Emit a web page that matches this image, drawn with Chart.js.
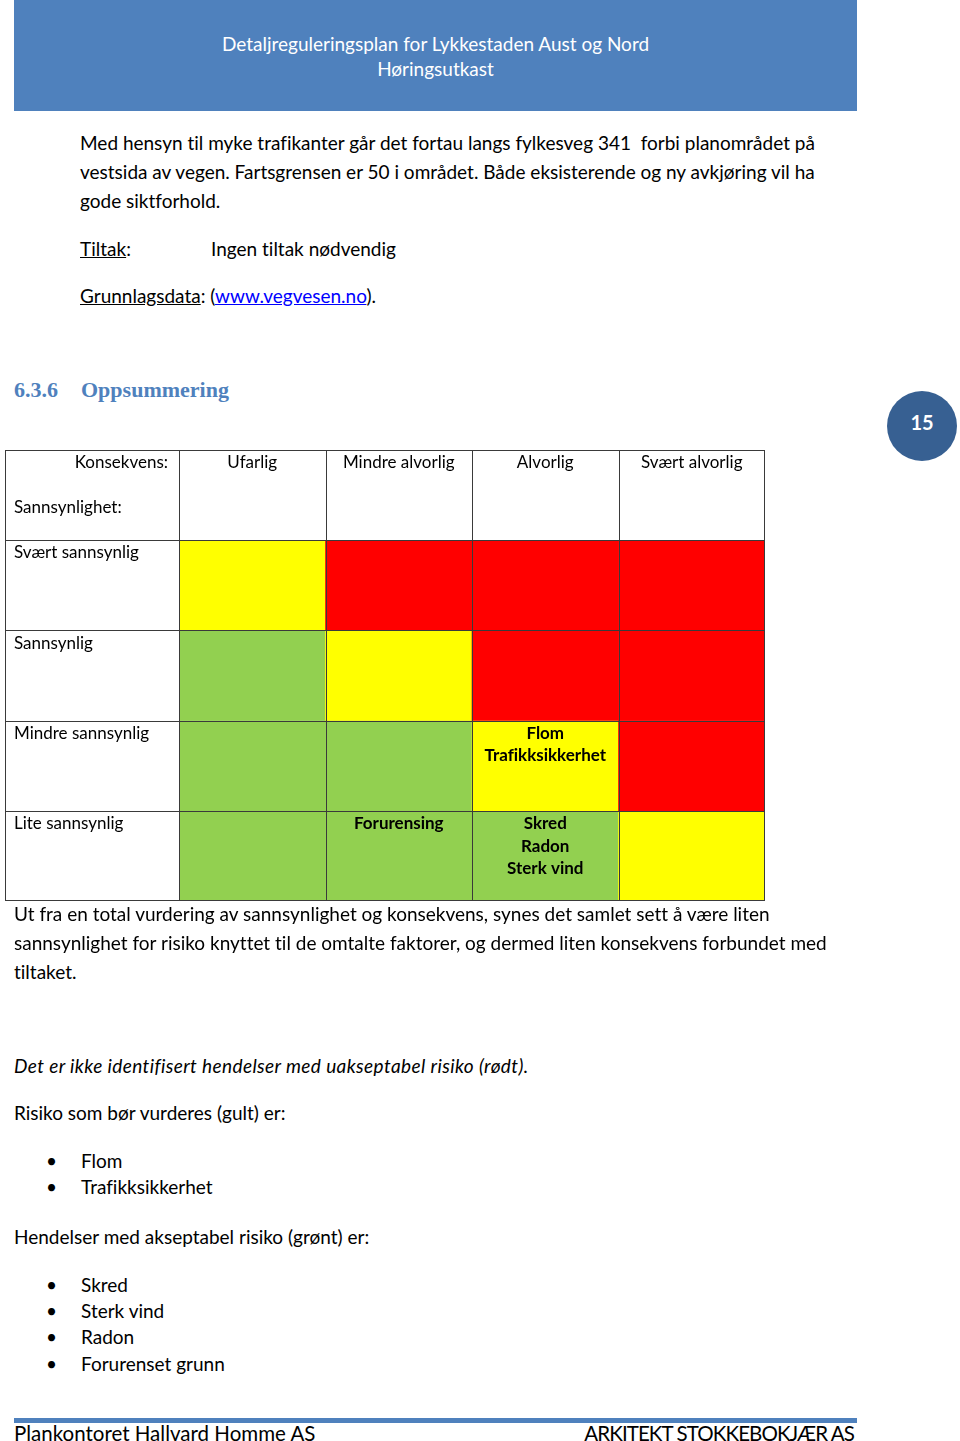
<!DOCTYPE html>
<html lang="no">
<head>
<meta charset="UTF-8">
<title>Oppsummering - risikomatrise</title>
<script src="https://cdn.jsdelivr.net/npm/chart.js"></script>
<style>
    * { box-sizing: border-box; margin: 0; padding: 0; }
    body {
        width: 960px;
        height: 1441px;
        position: relative;
        overflow: hidden;
        background: #fff;
        font-family: Lato, "Open Sans", sans-serif;
        font-size: 19px;
        font-variant-ligatures: none;
        color: #000;
    }
    .t {
        position: absolute;
        white-space: nowrap;
        line-height: 28px;
    }
    .u { text-decoration: underline; }
    a { color: #0000ff; text-decoration: underline; }
    .header {
        position: absolute;
        left: 14px; top: 0;
        width: 843px; height: 111px;
        background: #4f81bd;
        color: #fff;
        text-align: center;
        font-size: 19px;
        line-height: 25px;
        padding-top: 31px;
    }
    .heading {
        position: absolute;
        top: 376px;
        font-family: "Liberation Serif", serif;
        font-weight: bold;
        font-size: 22px;
        color: #4f81bd;
        line-height: 28px;
    }
    .pagenr {
        position: absolute;
        left: 887px; top: 391px;
        width: 70px; height: 70px;
        border-radius: 50%;
        background: #376092;
        color: #fff;
        font-weight: bold;
        font-size: 20px;
        line-height: 62px;
        text-align: center;
    }
    #matrix {
        position: absolute;
        left: 5px; top: 450px;
        width: 760px; height: 451px;
    }
    .bullet { position: absolute; left: 46px; }
    .footline {
        position: absolute;
        left: 14px; top: 1418px;
        width: 843px; height: 5px;
        background: #4f81bd;
    }
    .foot { font-size: 20.5px; }
</style>
</head>
<body>

<div class="header">Detaljreguleringsplan for Lykkestaden Aust og Nord<br>Høringsutkast</div>

<div class="t" style="left:80px; top:129px;">Med hensyn til myke trafikanter går det fortau langs fylkesveg 341&nbsp; forbi planområdet på</div>
<div class="t" style="left:80px; top:158px;">vestsida av vegen. Fartsgrensen er 50 i området. Både eksisterende og ny avkjøring vil ha</div>
<div class="t" style="left:80px; top:187px;">gode siktforhold.</div>
<div class="t" style="left:80px; top:235px;"><span class="u">Tiltak</span>:</div>
<div class="t" style="left:211px; top:235px;">Ingen tiltak nødvendig</div>
<div class="t" style="left:80px; top:282px;"><span class="u">Grunnlagsdata</span>: (<a>www.vegvesen.no</a>).</div>

<div class="heading" style="left:14px;">6.3.6</div>
<div class="heading" style="left:81px;">Oppsummering</div>
<div class="pagenr">15</div>

<div id="matrix"><canvas id="matrixCanvas"></canvas></div>

<div class="t" style="left:14px; top:900px;">Ut fra en total vurdering av sannsynlighet og konsekvens, synes det samlet sett å være liten</div>
<div class="t" style="left:14px; top:929px;">sannsynlighet for risiko knyttet til de omtalte faktorer, og dermed liten konsekvens forbundet med</div>
<div class="t" style="left:14px; top:958px;">tiltaket.</div>

<div class="t" style="left:14px; top:1052px; font-style:italic; letter-spacing:0.4px;">Det er ikke identifisert hendelser med uakseptabel risiko (rødt).</div>
<div class="t" style="left:14px; top:1099px;">Risiko som bør vurderes (gult) er:</div>
<div class="t bullet" style="top:1147px;">•</div><div class="t" style="left:81px; top:1147px;">Flom</div>
<div class="t bullet" style="top:1173px;">•</div><div class="t" style="left:81px; top:1173px;">Trafikksikkerhet</div>
<div class="t" style="left:14px; top:1223px;">Hendelser med akseptabel risiko (grønt) er:</div>
<div class="t bullet" style="top:1271px;">•</div><div class="t" style="left:81px; top:1271px;">Skred</div>
<div class="t bullet" style="top:1297px;">•</div><div class="t" style="left:81px; top:1297px;">Sterk vind</div>
<div class="t bullet" style="top:1323px;">•</div><div class="t" style="left:81px; top:1323px;">Radon</div>
<div class="t bullet" style="top:1350px;">•</div><div class="t" style="left:81px; top:1350px;">Forurenset grunn</div>

<div class="footline"></div>
<div class="t foot" style="left:14px; top:1419px;">Plankontoret Hallvard Homme AS</div>
<div class="t foot" style="right:106px; top:1419px; letter-spacing:-0.9px;">ARKITEKT STOKKEBOKJÆR AS</div>

<script>
    // Konsekvens (kolonner) og sannsynlighet (rader, ovenfra og ned)
    const consequences = ['Ufarlig', 'Mindre alvorlig', 'Alvorlig', 'Svært alvorlig'];
    const likelihoods = ['Svært sannsynlig', 'Sannsynlig', 'Mindre sannsynlig', 'Lite sannsynlig'];

    // 0 = grønt (akseptabel), 1 = gult (vurderes), 2 = rødt (uakseptabel)
    const riskLevels = [
        [1, 2, 2, 2],
        [0, 1, 2, 2],
        [0, 0, 1, 2],
        [0, 0, 0, 1]
    ];
    const levelColors = ['#92d050', '#ffff00', '#ff0000'];

    // Hendelser plassert i matrisen
    const events = [
        [[], [], [], []],
        [[], [], [], []],
        [[], [], ['Flom', 'Trafikksikkerhet'], []],
        [[], ['Forurensing'], ['Skred', 'Radon', 'Sterk vind'], []]
    ];

    const cornerTop = 'Konsekvens:';
    const cornerBottom = 'Sannsynlighet:';

    const fontFamily = 'Lato, "Open Sans", sans-serif';
    const lineColor = '#3a3a3a';

    // tegner rutenett og tekster ved hjelp av skalaene
    const tablePlugin = {
        id: 'tablePlugin',
        afterDatasetsDraw(chart) {
            const ctx = chart.ctx;
            const xs = chart.scales.x, ys = chart.scales.y;
            const area = chart.chartArea;
            const half = (xs.getPixelForValue(1) - xs.getPixelForValue(0)) / 2;

            ctx.save();
            ctx.strokeStyle = lineColor;
            ctx.lineWidth = 1;
            ctx.beginPath();
            // vertikale linjer
            let vx = [0.5];
            consequences.forEach((c, i) => vx.push(Math.round(xs.getPixelForValue(i) - half) + 0.5));
            vx.push(Math.round(area.right) - 0.5);
            vx.forEach(x => { ctx.moveTo(x, 0); ctx.lineTo(x, Math.round(area.bottom) - 0.5); });
            // horisontale linjer
            let hy = [0.5];
            likelihoods.forEach((l, r) => hy.push(Math.round(ys.getPixelForValue(r)) + 0.5));
            hy.push(Math.round(area.bottom) - 0.5);
            hy.forEach(y => { ctx.moveTo(0, y); ctx.lineTo(Math.round(area.right), y); });
            ctx.stroke();

            ctx.fillStyle = '#000';
            ctx.textBaseline = 'middle';
            ctx.font = '17px ' + fontFamily;

            // kolonneoverskrifter
            ctx.textAlign = 'center';
            consequences.forEach((c, i) => ctx.fillText(c, xs.getPixelForValue(i), 13));
            ctx.textAlign = 'right';
            ctx.fillText(cornerTop, area.left - 11, 13);
            ctx.textAlign = 'left';
            ctx.fillText(cornerBottom, 9, 58);

            // radetiketter
            likelihoods.forEach((l, r) => ctx.fillText(l, 9, ys.getPixelForValue(r) + 13));

            // hendelser i cellene
            ctx.font = 'bold 17px ' + fontFamily;
            ctx.textAlign = 'center';
            events.forEach((row, r) => row.forEach((list, c) => {
                list.forEach((txt, k) => {
                    ctx.fillText(txt, xs.getPixelForValue(c), ys.getPixelForValue(r) + 13 + k * 22.5);
                });
            }));
            ctx.restore();
        }
    };

    const datasets = likelihoods.map((l, r) => ({
        label: l,
        data: consequences.map(() => [r, r + 1]),
        backgroundColor: riskLevels[r].map(v => levelColors[v]),
        borderWidth: 0,
        barPercentage: 1,
        categoryPercentage: 1,
        grouped: false
    }));

    new Chart(document.getElementById('matrixCanvas'), {
        type: 'bar',
        data: { labels: consequences, datasets: datasets },
        options: {
            responsive: true,
            maintainAspectRatio: false,
            animation: false,
            layout: { padding: { left: 174, top: 90, right: 0, bottom: 0 } },
            plugins: { legend: { display: false }, tooltip: { enabled: false } },
            scales: {
                x: { display: false },
                y: { display: false, min: 0, max: 4, reverse: true }
            }
        },
        plugins: [tablePlugin]
    });
</script>
</body>
</html>
